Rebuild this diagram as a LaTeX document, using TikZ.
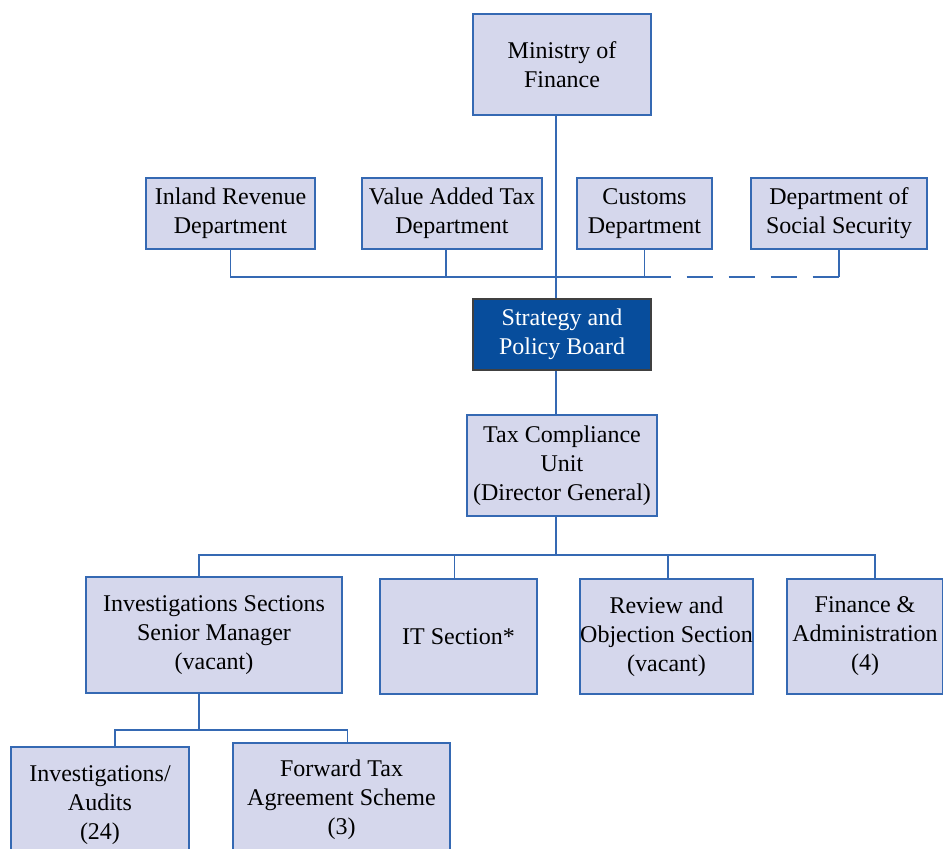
\documentclass[tikz,border=0pt]{standalone}
\usepackage{fontspec}
\setmainfont{Liberation Serif}
\usetikzlibrary{positioning}
\definecolor{boxfill}{HTML}{D5D7EC}
\definecolor{boxline}{HTML}{3569B3}
\definecolor{boardfill}{HTML}{074D9C}
\tikzstyle{unit}  = [draw=boxline, fill=boxfill, line width=1pt, align=center, inner sep=0pt, font=\fontsize{12}{14.5}\selectfont]
\tikzstyle{board} = [unit, fill=boardfill, draw=black!75, text=white]
\tikzstyle{link}  = [draw=boxline, line width=0.9pt]

\begin{document}
\begin{tikzpicture}[x=0.5pt, y=-0.5pt]
        \useasboundingbox (0,0) rectangle (943,848);

        % ministry and departments
        \node[unit, minimum width=89pt, minimum height=50.5pt] (ministry) at (562,64.5) {Ministry of\\Finance};
        \node[unit, minimum width=84.5pt, minimum height=35.5pt] (inland) at (230.5,213.5) {Inland Revenue\\Department};
        \node[unit, minimum width=90pt, minimum height=35.5pt] (vat) at (452,213.5) {Value Added Tax\\Department};
        \node[unit, minimum width=67.5pt, minimum height=35.5pt] (customs) at (644.5,213.5) {Customs\\Department};
        \node[unit, minimum width=88pt, minimum height=35.5pt] (social) at (839,213.5) {Department of\\Social Security};

        % board and unit
        \node[board, minimum width=89pt, minimum height=35.5pt] (board) at (562,334.5) {Strategy and\\Policy Board};
        \node[unit, minimum width=95pt, minimum height=50.5pt] (tcu) at (562,465.5) {Tax Compliance\\Unit\\(Director General)};

        % sections
        \node[unit, minimum width=128pt, minimum height=58pt] (invsec) at (214,635) {Investigations Sections\\Senior Manager\\(vacant)};
        \node[unit, minimum width=78.5pt, minimum height=57.5pt] (it) at (458.5,636.5) {IT Section*};
        \node[unit, minimum width=86.5pt, minimum height=57.5pt] (review) at (666.5,636.5) {Review and\\Objection Section\\(vacant)};
        \node[unit, minimum width=78pt, minimum height=57.5pt] (finance) at (865,636.5) {Finance \&\\Administration\\(4)};

        % teams
        \node[unit, minimum width=89pt, minimum height=58pt] (audits) at (100,805) {Investigations/\\Audits\\(24)};
        \node[unit, minimum width=108.5pt, minimum height=57pt] (forward) at (341.5,800) {Forward Tax\\Agreement Scheme\\(3)};

        \coordinate (trunk) at (556,0);
        \coordinate (topbar) at (0,277);
        \coordinate (midbar) at (0,555);
        \coordinate (lowbar) at (0,730);

        \draw[link] (ministry.south -| trunk) -- (board.north -| trunk);
        \draw[link] (inland.south) |- (customs.south |- topbar) -- (customs.south);
        \draw[link] ([xshift=-3pt]vat.south) -- ([xshift=-3pt]vat.south |- topbar);
        \draw[link, dash pattern=on 13pt off 8pt] (customs.south |- topbar) -- (social.south |- topbar);
        \draw[link] (social.south) -- (social.south |- topbar);

        \draw[link] (board.south -| trunk) -- (tcu.north -| trunk);
        \draw[link] (tcu.south -| trunk) -- (trunk |- midbar);
        \draw[link] ([xshift=-7.5pt]invsec.north) |- ([xshift=5pt]finance.north |- midbar) -- ([xshift=5pt]finance.north);
        \draw[link] ([xshift=-2pt]it.north) -- ([xshift=-2pt]it.north |- midbar);
        \draw[link] ([xshift=0.75pt]review.north) -- ([xshift=0.75pt]review.north |- midbar);

        \draw[link] ([xshift=-7.5pt]invsec.south) -- ([xshift=-7.5pt]invsec.south |- lowbar);
        \draw[link] ([xshift=7.5pt]audits.north) |- ([xshift=3pt]forward.north |- lowbar) -- ([xshift=3pt]forward.north);
    \end{tikzpicture}
\end{document}
